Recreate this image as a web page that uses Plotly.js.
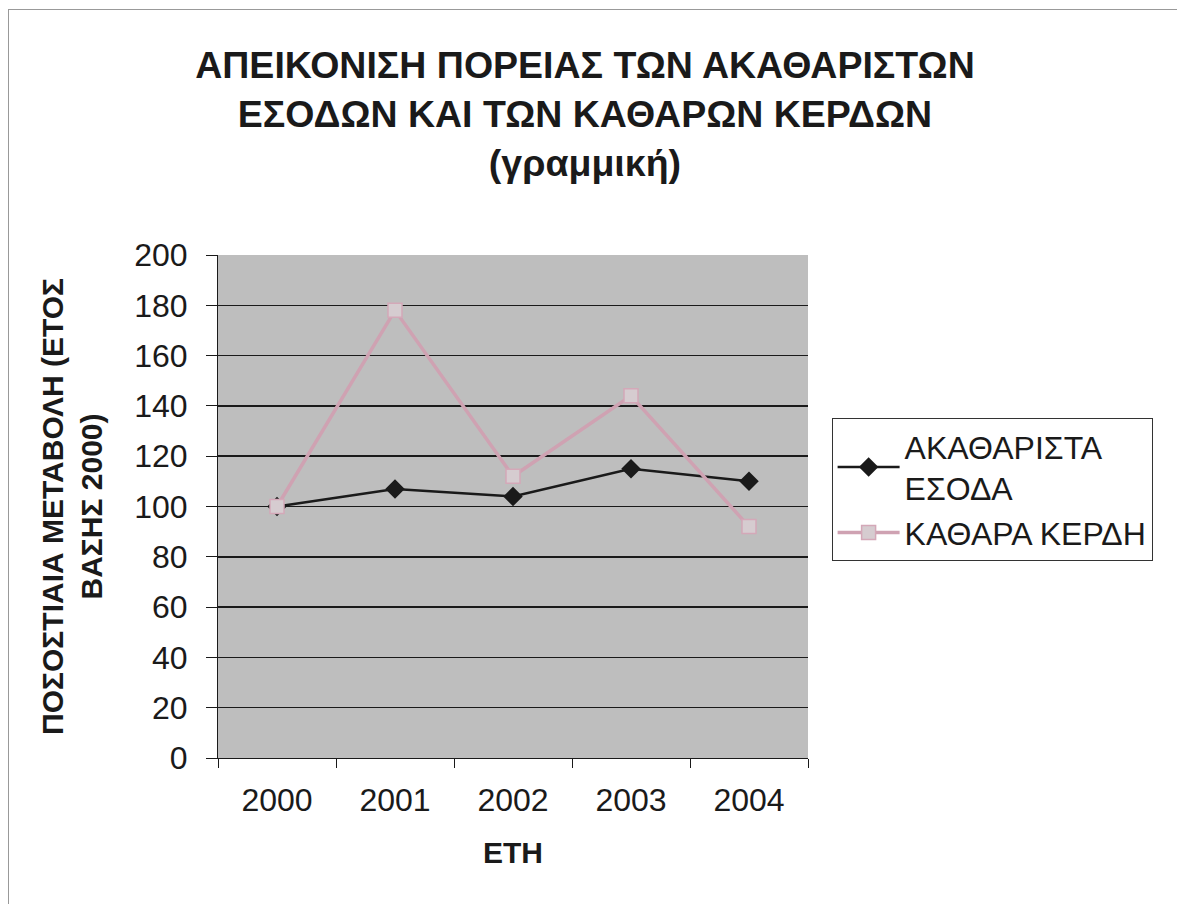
<!DOCTYPE html>
<html>
<head>
<meta charset="utf-8">
<script src="https://cdn.plot.ly/plotly-3.0.1.min.js"></script>
<style>
html,body{margin:0;padding:0;background:#fff;}
#frame{position:absolute;left:8px;top:9px;width:1200px;height:920px;border-left:1px solid #999;border-top:1px solid #999;}
#chart{position:absolute;left:0;top:0;width:1177px;height:904px;}
</style>
</head>
<body>
<div id="frame"></div>
<div id="chart"></div>
<script>
const years = ['2000','2001','2002','2003','2004'];
const grossRevenue = [100, 107, 104, 115, 110];
const netProfit = [100, 178, 112, 144, 92];
const seriesNames = ['ΑΚΑΘΑΡΙΣΤΑ<br>ΕΣΟΔΑ', 'ΚΑΘΑΡΑ ΚΕΡΔΗ'];
const yTicks = [0,20,40,60,80,100,120,140,160,180,200];

const font = 'Liberation Sans, Arial, sans-serif';

const traces = [
  {
    x: years, y: grossRevenue, name: seriesNames[0], type: 'scatter', mode: 'lines+markers',
    line: {color: '#1a1a1a', width: 2.5},
    marker: {symbol: 'diamond', size: 15, color: '#1a1a1a'}
  },
  {
    x: years, y: netProfit, name: seriesNames[1], type: 'scatter', mode: 'lines+markers',
    line: {color: '#cfa2b2', width: 3.5},
    marker: {symbol: 'square', size: 14, color: '#d6ccd0', line: {color: '#d4a8b8', width: 1.5}}
  }
];

const layout = {
  width: 1177, height: 904,
  paper_bgcolor: 'rgba(0,0,0,0)',
  plot_bgcolor: '#bebebe',
  margin: {l: 218, r: 369, t: 255, b: 146},
  font: {family: font, color: '#1a1a1a'},
  title: {
    text: '<b>ΑΠΕΙΚΟΝΙΣΗ ΠΟΡΕΙΑΣ ΤΩΝ ΑΚΑΘΑΡΙΣΤΩΝ<br>ΕΣΟΔΩΝ ΚΑΙ ΤΩΝ ΚΑΘΑΡΩΝ ΚΕΡΔΩΝ<br>(γραμμική)</b>',
    font: {family: font, size: 37.5, color: '#1a1a1a'},
    x: 0.497, xref: 'container', xanchor: 'center',
    y: 1 - 78/904, yref: 'container', yanchor: 'middle'
  },
  xaxis: {
    type: 'category',
    range: [-0.5, 4.5],
    tickson: 'boundaries',
    ticks: 'outside', ticklen: 9, tickcolor: '#1a1a1a',
    showline: true, linecolor: '#1a1a1a', linewidth: 1,
    showgrid: false, zeroline: false,
    tickfont: {size: 32, family: font},
    ticklabelstandoff: 14,
    title: {text: '<b>ΕΤΗ</b>', font: {size: 30, family: font}, standoff: 24}
  },
  yaxis: {
    range: [0, 200],
    tickvals: yTicks,
    ticks: 'outside', ticklen: 11, tickcolor: '#1a1a1a',
    showline: true, linecolor: '#1a1a1a', linewidth: 1,
    showgrid: true, gridcolor: '#1a1a1a', gridwidth: 1.5,
    zeroline: false,
    tickfont: {size: 32, family: font},
    ticklabelstandoff: 12,
    title: {text: '<b>ΠΟΣΟΣΤΙΑΙΑ ΜΕΤΑΒΟΛΗ (ΕΤΟΣ<br>ΒΑΣΗΣ 2000)</b>', font: {size: 30, family: font}, standoff: 22}
  },
  legend: {
    x: 1.04, xanchor: 'left',
    y: 0.676, yanchor: 'top',
    bordercolor: '#333', borderwidth: 1,
    bgcolor: '#ffffff',
    font: {size: 32, family: font, color: '#1a1a1a'},
    tracegroupgap: 8,
    itemwidth: 62
  },
  showlegend: true
};

Plotly.newPlot('chart', traces, layout, {displayModeBar: false, staticPlot: true});
</script>
</body>
</html>
